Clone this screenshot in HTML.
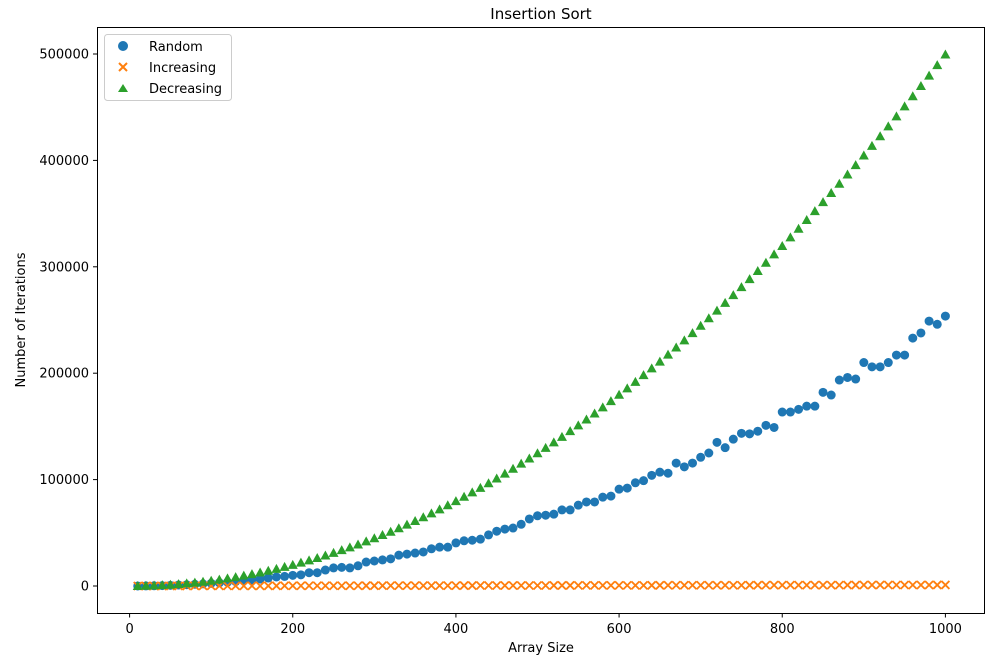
<!DOCTYPE html>
<html><head><meta charset="utf-8"><style>
body{margin:0;background:#fff;width:1000px;height:655px;overflow:hidden;font-family:"Liberation Sans","DejaVu Sans",sans-serif;}
text{font-family:"DejaVu Sans","Liberation Sans",sans-serif;}
</style></head><body>
<svg id="chart" width="1000" height="655" xmlns="http://www.w3.org/2000/svg">
<rect width="1000" height="655" fill="#fff"/>
<text x="541" y="19" font-size="15" text-anchor="middle">Insertion Sort</text>
<g id="marks"></g>
<rect x="97.5" y="27.5" width="887" height="586" fill="none" stroke="#000" stroke-width="1"/>
<g id="axes"></g>
<text x="541" y="652" font-size="13" text-anchor="middle">Array Size</text>
<text transform="translate(25,320) rotate(-90)" font-size="13" text-anchor="middle">Number of Iterations</text>
<g>
<rect x="104.5" y="34.5" width="127" height="66" rx="3" fill="#fff" fill-opacity="0.8" stroke="#ccc"/>
<circle cx="123" cy="46" r="5" fill="#1f77b4"/>
<text x="149" y="51" font-size="13">Random</text>
<path d="M119,63 L127,71 M127,63 L119,71" stroke="#ff7f0e" stroke-width="2"/>
<text x="149" y="72" font-size="13">Increasing</text>
<path d="M123,84 L128,92 L118,92 Z" fill="#2ca02c"/>
<text x="149" y="93" font-size="13">Decreasing</text>
</g>
</svg>
<script>
const sizes=[10,20,30,40,50,60,70,80,90,100,110,120,130,140,150,160,170,180,190,200,210,220,230,240,250,260,270,280,290,300,310,320,330,340,350,360,370,380,390,400,410,420,430,440,450,460,470,480,490,500,510,520,530,540,550,560,570,580,590,600,610,620,630,640,650,660,670,680,690,700,710,720,730,740,750,760,770,780,790,800,810,820,830,840,850,860,870,880,890,900,910,920,930,940,950,960,970,980,990,1000];
const randomVals=[25,100,220,400,600,900,1200,1600,2000,2500,3000,3600,4200,4900,5500,6500,7500,8500,9000,10000,10500,12500,12500,15000,17000,17500,17000,19000,22500,23500,24500,25500,29000,30000,31000,32000,35000,36500,36500,40500,42500,43000,44000,48000,51500,53500,54500,58000,63000,66000,66500,67500,71500,71500,76000,79000,79000,83500,84500,91000,92000,97000,99000,104000,107000,106000,115500,112000,115500,121000,125000,135000,130000,138000,143500,143000,145500,151000,149000,163500,163500,166000,169000,169000,182000,179500,193600,196000,194500,210000,206000,206000,210000,217000,217000,233000,237800,249000,246000,253700];
const increasingVals=[9,19,29,39,49,59,69,79,89,99,109,119,129,139,149,159,169,179,189,199,209,219,229,239,249,259,269,279,289,299,309,319,329,339,349,359,369,379,389,399,409,419,429,439,449,459,469,479,489,499,509,519,529,539,549,559,569,579,589,599,609,619,629,639,649,659,669,679,689,699,709,719,729,739,749,759,769,779,789,799,809,819,829,839,849,859,869,879,889,899,909,919,929,939,949,959,969,979,989,999];
const decreasingVals=[45,190,435,780,1225,1770,2415,3160,4005,4950,5995,7140,8385,9730,11175,12720,14365,16110,17955,19900,21945,24090,26335,28680,31125,33670,36315,39060,41905,44850,47895,51040,54285,57630,61075,64620,68265,72010,75855,79800,83845,87990,92235,96580,101025,105570,110215,114960,119805,124750,129795,134940,140185,145530,150975,156520,162165,167910,173755,179700,185745,191890,198135,204480,210925,217470,224115,230860,237705,244650,251695,258840,266085,273430,280875,288420,296065,303810,311655,319600,327645,335790,344035,352380,360825,369370,378015,386760,395605,404550,413595,422740,431985,441330,450775,460320,469965,479710,489555,499500];
const xTicks=[0,200,400,600,800,1000];
const yTicks=[0,100000,200000,300000,400000,500000];
const NS="http://www.w3.org/2000/svg";
function xs(v){return 129.6+v*0.8158;}
function ys(v){return 586-v*532/500000;}
function mk(tag,attrs){const e=document.createElementNS(NS,tag);for(const k in attrs)e.setAttribute(k,attrs[k]);return e;}
const marks=document.getElementById('marks');
const axes=document.getElementById('axes');
xTicks.forEach(t=>{
  const l=mk('line',{x1:xs(t),x2:xs(t),y1:613.5,y2:617.5,stroke:'#000'});
  
  
  axes.appendChild(l);
  const tx=mk('text',{x:xs(t),y:633,'font-size':13,'text-anchor':'middle'});
  
  
  tx.textContent=t;axes.appendChild(tx);
});
yTicks.forEach(t=>{
  const l=mk('line',{x1:93,x2:97.5,y1:ys(t),y2:ys(t),stroke:'#000'});
  
  
  axes.appendChild(l);
  const tx=mk('text',{x:89,y:ys(t)+4.5,'font-size':13,'text-anchor':'end'});
  
  
  tx.textContent=t;axes.appendChild(tx);
});
sizes.forEach((s,i)=>{
  const x=xs(s);
  let y=ys(randomVals[i]);
  const c=mk('circle',{cx:x,cy:y,r:4.5,fill:'#1f77b4'});
  
  
  marks.appendChild(c);
  y=ys(increasingVals[i]);
  const p=mk('path',{d:`M${x-4},${y-4}L${x+4},${y+4}M${x+4},${y-4}L${x-4},${y+4}`,stroke:'#ff7f0e','stroke-width':1.8});
  
  
  marks.appendChild(p);
  y=ys(decreasingVals[i]);
  const t=mk('path',{d:`M${x},${y-5}L${x+5},${y+4}L${x-5},${y+4}Z`,fill:'#2ca02c'});
  
  
  marks.appendChild(t);
});
</script>
</body></html>
